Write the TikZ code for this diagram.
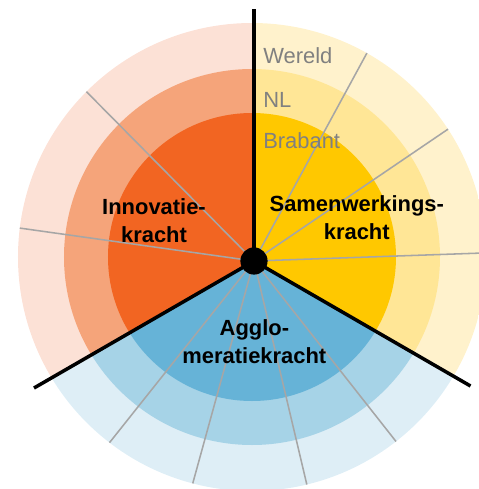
\documentclass[tikz,border=0pt]{standalone}
\usepackage{fontspec}
\setmainfont{Liberation Sans}
\usepackage{xcolor}
\usepackage{tikz}
\usetikzlibrary{positioning}

\definecolor{innoA}{HTML}{F26522}
\definecolor{innoB}{HTML}{F5A47A}
\definecolor{innoC}{HTML}{FCE1D6}
\definecolor{samenA}{HTML}{FFC800}
\definecolor{samenB}{HTML}{FFE696}
\definecolor{samenC}{HTML}{FFF2CC}
\definecolor{agglA}{HTML}{66B3D7}
\definecolor{agglB}{HTML}{A6D3E7}
\definecolor{agglC}{HTML}{DEEEF6}
\definecolor{spokegray}{HTML}{A6A6A6}
\definecolor{labelgray}{HTML}{808080}

\begin{document}
\begin{tikzpicture}[
  spoke/.style={draw=spokegray,line width=1.1pt},
  border/.style={draw=black,line width=2.5pt},
  ringlabel/.style={anchor=base west,inner sep=0pt,text=labelgray,font=\fontsize{15.6}{19}\selectfont},
  pillar/.style={align=center,inner sep=0pt,font=\bfseries\fontsize{15.6}{19.9}\selectfont}]
\useasboundingbox (-6.3,-5.8) rectangle (5.675,6.425);
\clip (-6.3,-5.8) rectangle (5.675,6.425);

\coordinate (ringc) at (0,0);
\coordinate (hub) at (0.05,-0.1);

% Wereld
\begin{scope}
\clip (ringc) circle (5.85);
\fill[innoC,shift={(hub)}] (0,0) -- (90:9) -- (150:9) -- (210:9) -- cycle;
\fill[agglC,shift={(hub)}] (0,0) -- (210:9) -- (270:9) -- (330:9) -- cycle;
\fill[samenC,shift={(hub)}] (0,0) -- (330:9) -- (30:9) -- (90:9) -- cycle;
\end{scope}

% NL
\begin{scope}
\clip (ringc) circle (4.7);
\fill[innoB,shift={(hub)}] (0,0) -- (90:9) -- (150:9) -- (210:9) -- cycle;
\fill[agglB,shift={(hub)}] (0,0) -- (210:9) -- (270:9) -- (330:9) -- cycle;
\fill[samenB,shift={(hub)}] (0,0) -- (330:9) -- (30:9) -- (90:9) -- cycle;
\end{scope}

% Brabant
\begin{scope}
\clip (ringc) circle (3.6);
\fill[innoA,shift={(hub)}] (0,0) -- (90:9) -- (150:9) -- (210:9) -- cycle;
\fill[agglA,shift={(hub)}] (0,0) -- (210:9) -- (270:9) -- (330:9) -- cycle;
\fill[samenA,shift={(hub)}] (0,0) -- (330:9) -- (30:9) -- (90:9) -- cycle;
\end{scope}

% grey spokes
\begin{scope}
\clip (ringc) circle (5.85);
\draw[spoke] (hub) -- ++(134.7:7);
\draw[spoke] (hub) -- ++(172:7);
\draw[spoke] (hub) -- ++(61.5:7);
\draw[spoke] (hub) -- ++(34.2:7);
\draw[spoke] (hub) -- ++(2:7);
\draw[spoke] (hub) -- ++(231.5:7);
\draw[spoke] (hub) -- ++(254.6:7);
\draw[spoke] (hub) -- ++(283.3:7);
\draw[spoke] (hub) -- ++(308.2:7);
\end{scope}

\draw[border] (hub) -- ++(90:6.3);
\draw[border] (hub) -- ++(210:6.35);
\draw[border] (hub) -- ++(330:6.25);
\node (hubdot) at (hub) [circle,fill=black,inner sep=0pt,minimum size=0.68cm] {};

\node (wereld) at (0.275,4.84) [ringlabel] {Wereld};
\node (nl) at (0.275,3.74) [ringlabel] {NL};
\node (brabant) at (0.275,2.72) [ringlabel] {Brabant};

\node (innovatie) at (-2.45,0.9) [pillar] {Innovatie-\\kracht};
\node (samenwerking) at (2.62,0.975) [pillar] {Samenwerkings-\\kracht};
\node (agglomeratie) at (0.06,-2.12) [pillar] {Agglo-\\meratiekracht};
\end{tikzpicture}
\end{document}
